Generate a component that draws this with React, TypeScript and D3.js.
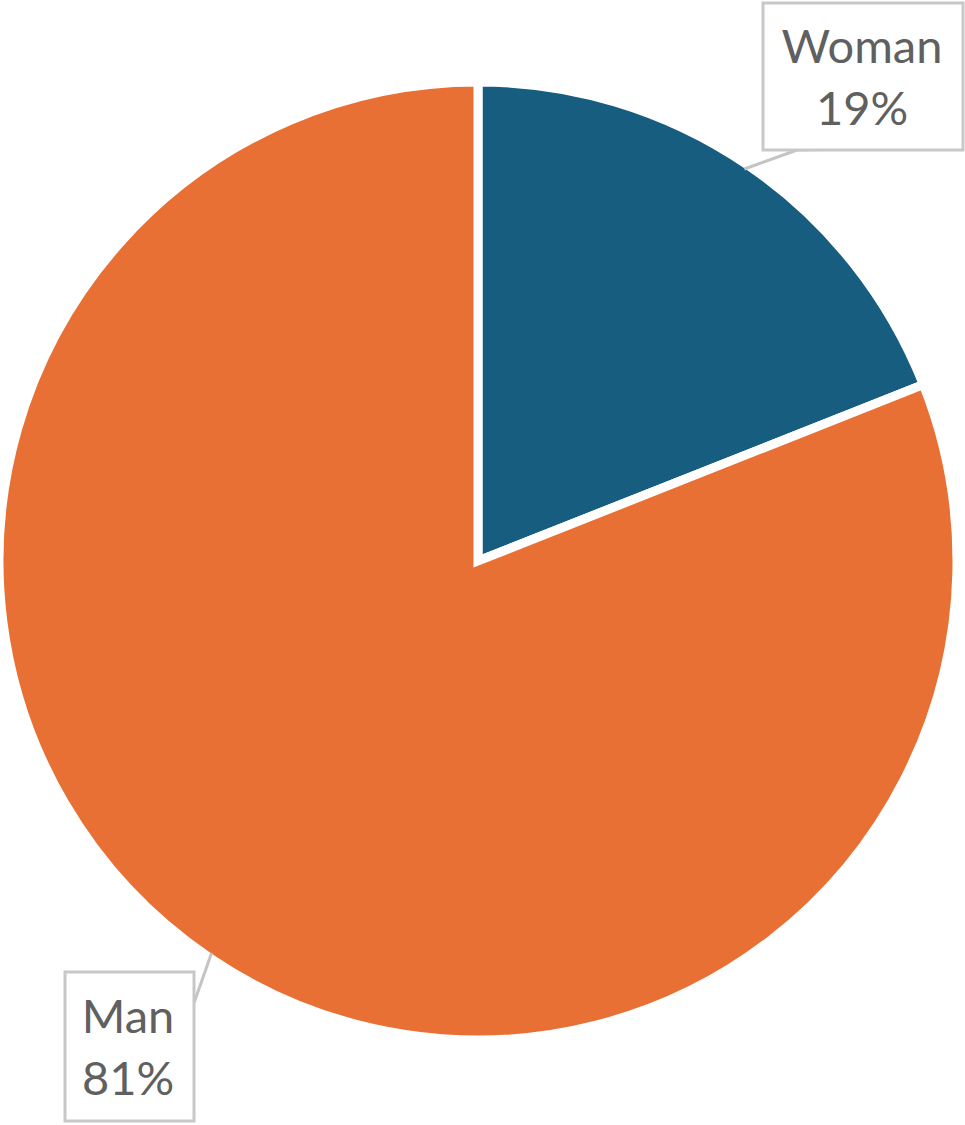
import { useRef, useEffect } from 'react';
import * as d3 from 'd3';

const categories = ["Woman", "Man"];
const values = [19, 81];
const colors = ["#175d80", "#e87034"];

export default function App() {
  const svgRef = useRef<SVGSVGElement>(null);

  useEffect(() => {
    const width = 965;
    const height = 1125;
    const cx = 478;
    const cy = 561;
    const radius = 479;

    const svg = d3.select(svgRef.current);
    svg.selectAll("*").remove();

    const data = categories.map((c, i) => ({ name: c, value: values[i], color: colors[i] }));

    const pie = d3.pie<any>().sort(null).value(d => d.value);
    const arcs = pie(data);
    const arc = d3.arc<any>().innerRadius(0).outerRadius(radius);

    const g = svg.append("g").attr("transform", `translate(${cx},${cy})`);
    g.selectAll("path")
      .data(arcs)
      .join("path")
      .attr("d", arc)
      .attr("fill", d => d.data.color)
      .attr("stroke", "#fff")
      .attr("stroke-width", 9)
      .attr("stroke-linejoin", "miter");

    // leader lines + label boxes
    const pt = (a: number, r: number) => [cx + r * Math.sin(a), cy - r * Math.cos(a)];
    const labels = [
      { box: [763, 3, 200, 147], text: [862, 63, 125], tail: [[797, 150], [848, 149]] },
      { box: [65, 972, 129, 149], text: [128, 1033, 1095], tail: [[194, 1003]] },
    ];

    arcs.forEach((d, i) => {
      const lab = labels[i];
      const mid = (d.startAngle + d.endAngle) / 2;
      svg.append("path")
        .attr("d", d3.line()([pt(mid, radius - 5), ...lab.tail] as [number, number][]))
        .attr("fill", "none")
        .attr("stroke", "#c4c4c4")
        .attr("stroke-width", 3);
      svg.append("rect")
        .attr("x", lab.box[0])
        .attr("y", lab.box[1])
        .attr("width", lab.box[2])
        .attr("height", lab.box[3])
        .attr("fill", "#fff")
        .attr("stroke", "#c8c8c8")
        .attr("stroke-width", 3);
      const t = svg.append("text")
        .attr("text-anchor", "middle")
        .attr("font-family", "Lato, sans-serif")
        .attr("font-size", 47)
        .attr("fill", "#606060");
      t.append("tspan").attr("x", lab.text[0]).attr("y", lab.text[1]).text(d.data.name);
      t.append("tspan").attr("x", lab.text[0]).attr("y", lab.text[2]).text(`${d.data.value}%`);
    });

    svg.attr("width", width).attr("height", height);
  }, []);

  return (
    <svg
      ref={svgRef}
      width={965}
      height={1125}
      style={{ position: 'absolute', left: 0, top: 0, background: '#fff' }}
    />
  );
}
